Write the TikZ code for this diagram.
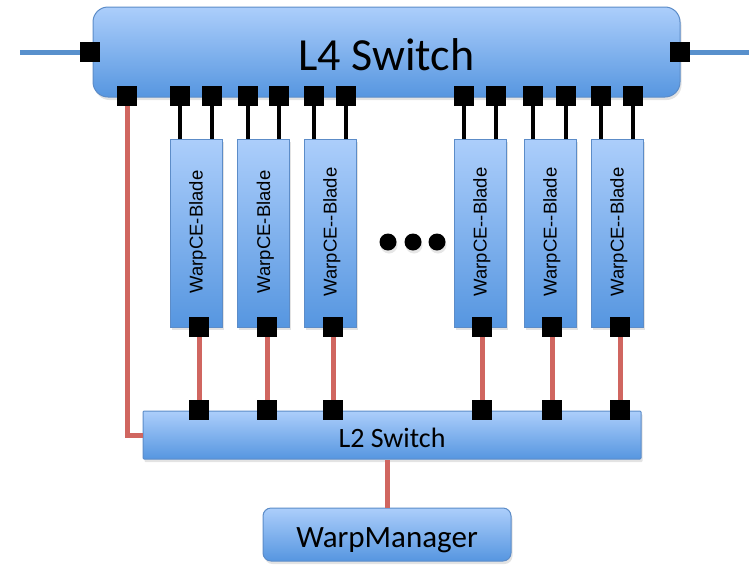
\documentclass[tikz,border=0pt]{standalone}
\usepackage{fontspec}
\setmainfont{Carlito}
\newfontfamily\bladefont{Liberation Sans}
\usetikzlibrary{shadows}
\definecolor{btop}{RGB}{172,206,251}
\definecolor{bbot}{RGB}{86,150,224}
\definecolor{bedge}{RGB}{92,140,200}
\definecolor{redl}{RGB}{208,102,96}
\definecolor{bluel}{RGB}{88,144,204}
\begin{document}
\begin{tikzpicture}[x=1pt,y=-1pt,
  box/.style={draw=bedge, line width=1pt, top color=btop, bottom color=bbot, inner sep=0pt,
    drop shadow={opacity=0.22, shadow xshift=1.5pt, shadow yshift=-3pt}},
  port/.style={fill=black, draw=none, minimum size=20pt, inner sep=0pt},
  blade/.style={box, minimum width=52pt, minimum height=188pt},
  bladetext/.style={rotate=90, inner sep=0pt, font=\bladefont\fontsize{18.5}{20}\selectfont, text height=13.2pt, text depth=0pt},
  dotnode/.style={circle, fill=black, minimum size=17pt, inner sep=0pt,
    drop shadow={opacity=0.2, shadow xshift=1pt, shadow yshift=-3pt}},
  blackline/.style={line width=4pt, black},
  redline/.style={line width=5pt, redl},
  blueline/.style={line width=5pt, bluel}
]
\useasboundingbox (0,0) rectangle (749,565);

% L4 switch
\node[box, rounded corners=15pt, minimum width=587pt, minimum height=90pt,
  font=\fontsize{46}{50}\selectfont, text height=29.6pt, text depth=0pt] (l4) at (386.5,52) {\raisebox{-4pt}{L4 Switch}};

% external links
\coordinate (el) at (20,52);
\coordinate (er) at (749,52);
\node[port] (pl) at (90,52) {};
\node[port] (pr) at (680,52) {};
\draw[blueline] (el) -- (pl.west);
\draw[blueline] (pr.east) -- (er);

% L4 bottom ports
\node[port] (pm) at (127,96) {};
\foreach \i/\x in {1/180,2/212,3/248,4/279,5/314,6/346,7/464,8/496,9/533,10/566,11/601,12/633}
  \node[port] (u\i) at (\x,96) {};

% blades
\foreach \i/\x/\t in {1/196/WarpCE-Blade,2/263.5/WarpCE-Blade,3/330/WarpCE--Blade,4/480/WarpCE--Blade,5/550/WarpCE--Blade,6/617/WarpCE--Blade}{
  \node[blade] (b\i) at (\x,233) {};
  \node[bladetext] (t\i) at (\x,232) {\t};
}

% blade uplinks
\foreach \p/\b in {1/1,2/1,3/2,4/2,5/3,6/3,7/4,8/4,9/5,10/5,11/6,12/6}
  \draw[blackline] (u\p.south) -- (u\p.south |- b\b.north);

% L2 switch
\node[box, rounded corners=1pt, minimum width=498pt, minimum height=48pt,
  font=\fontsize{28}{30}\selectfont, text height=18pt, text depth=0pt] (l2) at (392,435) {\raisebox{-3pt}{L2 Switch}};

% blade bottom ports, L2 ports and links
\foreach \i/\x in {1/199,2/267,3/333,4/482,5/552,6/620}{
  \node[port] (q\i) at (\x,327) {};
  \node[port] (s\i) at (\x,410) {};
  \draw[redline] (q\i.south) -- (s\i.north);
}

% management link from L4 to L2
\draw[redline] (pm.south) |- (l2.west);

% dots
\node[dotnode] (d1) at (388,242) {};
\node[dotnode] (d2) at (413,242) {};
\node[dotnode] (d3) at (437,242) {};

% WarpManager
\node[box, rounded corners=8pt, minimum width=248pt, minimum height=53pt,
  font=\fontsize{31}{34}\selectfont, text height=20pt, text depth=0pt] (wm) at (387,534.5) {\raisebox{-3pt}{WarpManager}};
\draw[redline] (wm.north) -- (wm.north |- l2.south);
\end{tikzpicture}
\end{document}
